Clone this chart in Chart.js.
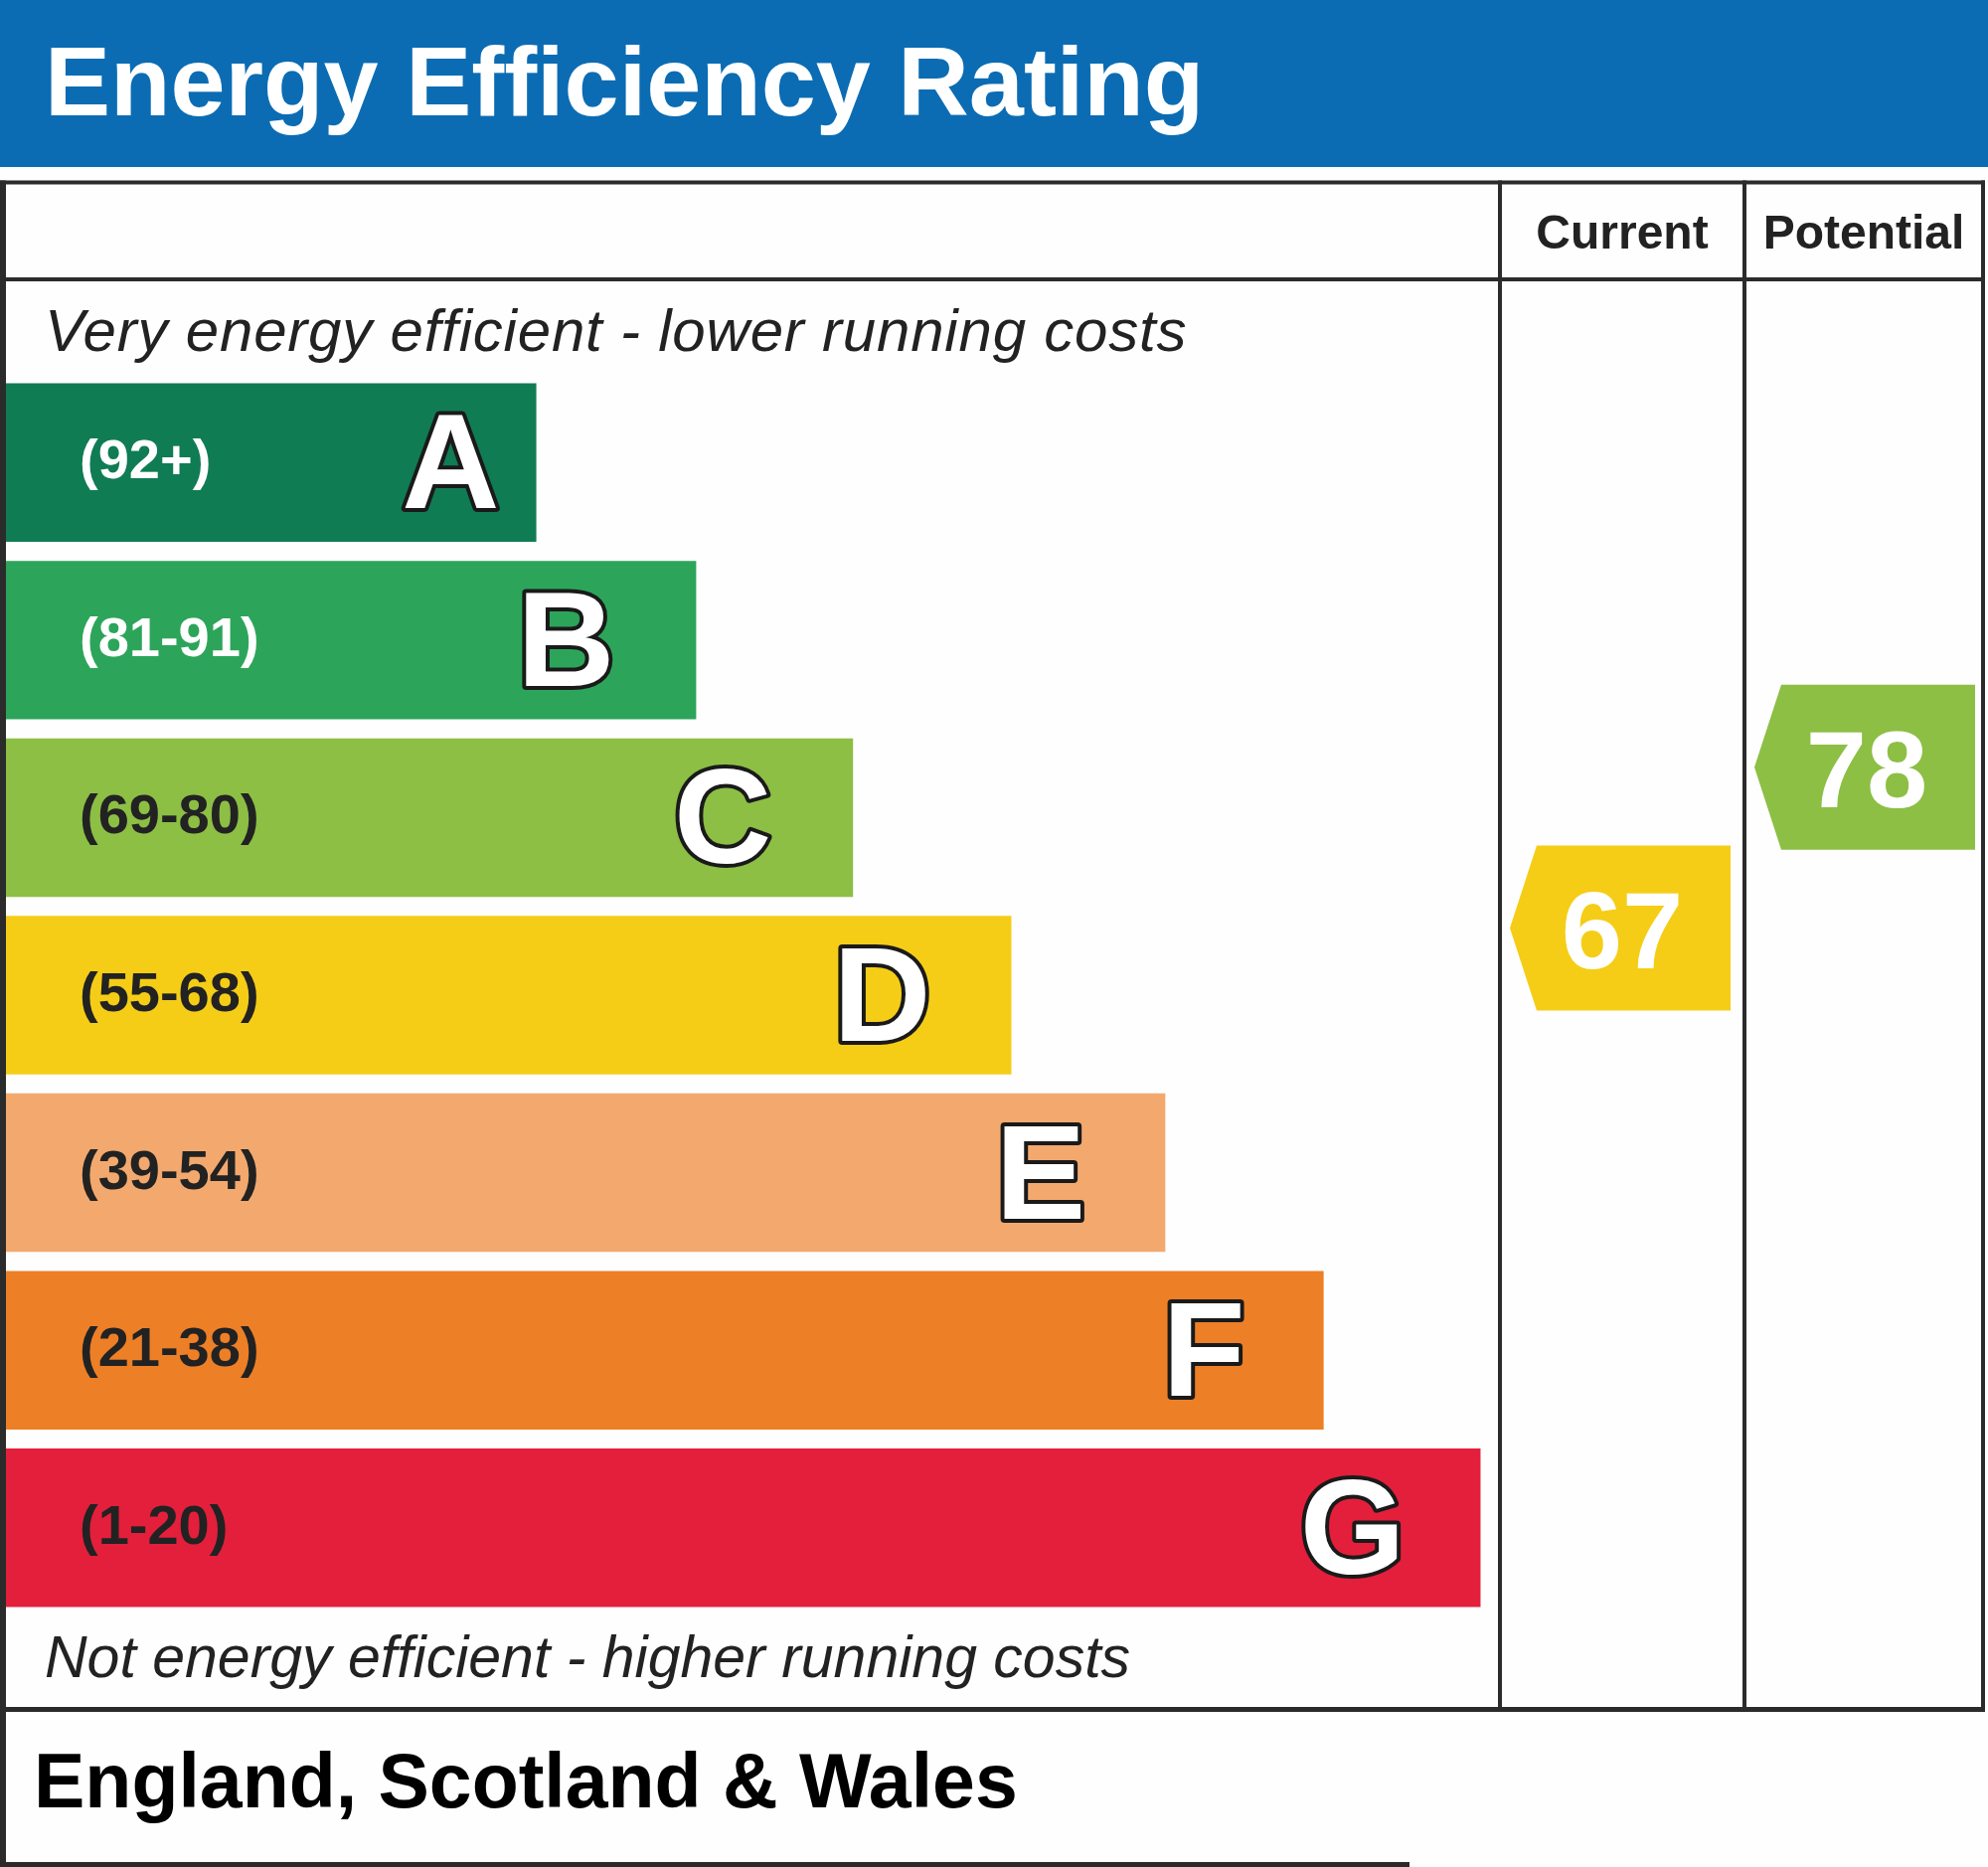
<!DOCTYPE html>
<html lang="en">
<head>
  <meta charset="UTF-8">
  <title>Energy Efficiency Rating</title>
  <script src="https://cdn.jsdelivr.net/npm/chart.js@4.4.1/dist/chart.umd.min.js"></script>
  <style>
    html, body { margin: 0; padding: 0; background: #fefefe; }
    canvas { display: block; }
  </style>
</head>
<body>
  <canvas id="epc" width="2000" height="1878"></canvas>
  <script>
    // bands, top (best) to bottom (worst)
    const bandLetters = ['A', 'B', 'C', 'D', 'E', 'F', 'G'];
    const bandRanges = ['(92+)', '(81-91)', '(69-80)', '(55-68)', '(39-54)', '(21-38)', '(1-20)'];
    const bandMin = [92, 81, 69, 55, 39, 21, 1];
    const bandMax = [100, 91, 80, 68, 54, 38, 20];
    const barLengths = [35.5, 46.2, 56.7, 67.3, 77.6, 88.2, 98.7];

    const ratingColumns = ['Current', 'Potential'];
    const ratingValues = [67, 78];

    const bandColors = ['#107c54', '#2ca55a', '#8cbf44', '#f5cd17', '#f3a96e', '#ed7f27', '#e31f3c'];
    const labelColors = ['#ffffff', '#ffffff', '#222222', '#222222', '#222222', '#222222', '#222222'];
    // gap between bar end and the right edge of its letter (px)
    const letterInset = [37, 82, 82, 81, 80, 79, 76];

    const W = 2000, H = 1878;
    const FONT = '"Liberation Sans", Arial, Helvetica, sans-serif';
    const colWidth = [246, 240];

    function bandOf(v) {
      for (let i = 0; i < bandMin.length; i++) {
        if (v >= bandMin[i] && v <= bandMax[i]) return i;
      }
      return bandMin.length - 1;
    }

    function hline(ctx, x1, x2, y, w) {
      ctx.lineWidth = w;
      ctx.beginPath(); ctx.moveTo(x1, y); ctx.lineTo(x2, y); ctx.stroke();
    }
    function vline(ctx, x, y1, y2, w) {
      ctx.lineWidth = w;
      ctx.beginPath(); ctx.moveTo(x, y1); ctx.lineTo(x, y2); ctx.stroke();
    }

    const epcPlugin = {
      id: 'epc',
      beforeDraw(chart) {
        const ctx = chart.ctx;
        ctx.save();
        ctx.fillStyle = '#fefefe';
        ctx.fillRect(0, 0, W, H);
        // blue title bar
        ctx.fillStyle = '#0b6cb3';
        ctx.fillRect(0, 0, W, 168);
        ctx.fillStyle = '#ffffff';
        ctx.font = 'bold 99px ' + FONT;
        ctx.textBaseline = 'alphabetic';
        ctx.fillText('Energy Efficiency Rating', 45, 116);

        ctx.fillStyle = '#222222';
        ctx.font = 'italic 60px ' + FONT;
        ctx.letterSpacing = '0.8px';
        ctx.fillText('Very energy efficient - lower running costs', 45, 353);
        ctx.letterSpacing = '0px';
        ctx.font = 'italic 59px ' + FONT;
        ctx.fillText('Not energy efficient - higher running costs', 45, 1687);

        ctx.fillStyle = '#000000';
        ctx.font = 'bold 77px ' + FONT;
        ctx.fillText('England, Scotland & Wales', 34, 1818);
        ctx.restore();
      },
      afterDatasetsDraw(chart) {
        const ctx = chart.ctx;
        const bars = chart.getDatasetMeta(0).data;
        ctx.save();

        // range labels and band letters
        bars.forEach((bar, i) => {
          ctx.textBaseline = 'alphabetic';
          ctx.textAlign = 'left';
          ctx.font = 'bold 56px ' + FONT;
          ctx.fillStyle = labelColors[i];
          ctx.fillText(bandRanges[i], 80, bar.y + 16);

          ctx.textAlign = 'right';
          ctx.font = 'bold 136px ' + FONT;
          ctx.lineJoin = 'round';
          ctx.lineWidth = 8;
          ctx.strokeStyle = '#1a1a1a';
          const lx = bar.x - letterInset[i], ly = bar.y + 46;
          ctx.strokeText(bandLetters[i], lx, ly);
          ctx.fillStyle = '#ffffff';
          ctx.fillText(bandLetters[i], lx, ly);
        });

        // current / potential columns
        let colLeft = chart.chartArea.right;
        const edges = [colLeft];
        ratingColumns.forEach((name, c) => {
          const w = colWidth[c];
          ctx.fillStyle = '#222222';
          ctx.textAlign = 'center';
          ctx.textBaseline = 'alphabetic';
          ctx.font = 'bold 48px ' + FONT;
          ctx.fillText(name, colLeft + w / 2, 250);

          const v = ratingValues[c];
          const b = bandOf(v);
          const bar = bars[b];
          const top = bar.y - bar.height / 2;
          const cy = top + (bandMax[b] - v) / (bandMax[b] - bandMin[b]) * bar.height;
          const aw = 222, ah = 166, notch = 27;
          const ax = colLeft + 10;
          ctx.fillStyle = bandColors[b];
          ctx.beginPath();
          ctx.moveTo(ax, cy);
          ctx.lineTo(ax + notch, cy - ah / 2);
          ctx.lineTo(ax + aw, cy - ah / 2);
          ctx.lineTo(ax + aw, cy + ah / 2);
          ctx.lineTo(ax + notch, cy + ah / 2);
          ctx.closePath();
          ctx.fill();

          ctx.fillStyle = '#ffffff';
          ctx.font = 'bold 110px ' + FONT;
          ctx.fillText(String(v), ax + aw / 2 + 2, cy + 40);

          colLeft += w;
          edges.push(colLeft);
        });

        // table lines
        ctx.strokeStyle = '#2b2b2b';
        const right = edges[edges.length - 1];
        hline(ctx, 0, right + 2, 183.5, 4);
        hline(ctx, 0, right + 2, 281, 4);
        hline(ctx, 0, right + 2, 1719.5, 5);
        hline(ctx, 0, 1418, 1875.5, 5);
        vline(ctx, 3, 181.5, H, 6);
        edges.forEach(x => vline(ctx, x, 181.5, 1722, 4));
        ctx.restore();
      }
    };

    new Chart(document.getElementById('epc'), {
      type: 'bar',
      data: {
        labels: bandLetters,
        datasets: [{
          data: barLengths,
          backgroundColor: bandColors,
          borderWidth: 0,
          barPercentage: 0.893,
          categoryPercentage: 1
        }]
      },
      options: {
        indexAxis: 'y',
        responsive: false,
        animation: false,
        devicePixelRatio: 1,
        events: [],
        layout: { padding: { left: 6, right: 491, top: 376, bottom: 252 } },
        scales: {
          x: { min: 0, max: 100, display: false },
          y: { display: false }
        },
        plugins: { legend: { display: false }, tooltip: { enabled: false } }
      },
      plugins: [epcPlugin]
    });
  </script>
</body>
</html>
